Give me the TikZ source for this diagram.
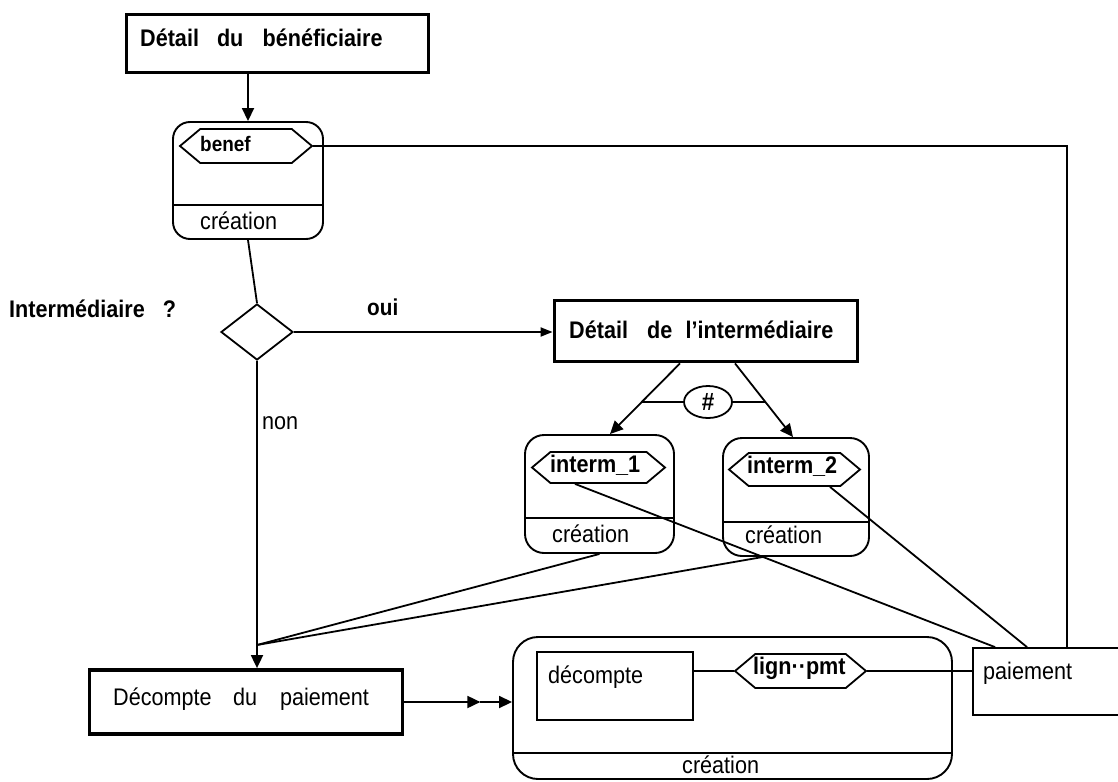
\documentclass[tikz,border=0pt]{standalone}
\usepackage{fontspec}
\setmainfont{Liberation Sans}[FakeStretch=0.9]
\usetikzlibrary{arrows.meta,shapes.geometric,shapes.symbols}
\begin{document}
\begin{tikzpicture}[x=1pt,y=-1pt,
  lbl/.style={font=\fontsize{24}{28}\selectfont, inner sep=0pt, anchor=base west},
  lblb/.style={lbl, font=\fontsize{24}{28}\selectfont\bfseries},
  heavybox/.style={draw, rectangle, line width=3.8pt, inner sep=0pt},
  plainbox/.style={draw, rectangle, line width=1.8pt, inner sep=0pt},
  roundbox/.style={draw, rectangle, line width=1.9pt, rounded corners=17pt, inner sep=0pt},
  hexa/.style={draw, signal, signal to=east and west, signal pointer angle=80, line width=1.8pt, inner sep=0pt},
  wire/.style={line width=1.8pt},
  arr/.style={-{Triangle[length=13pt,width=12pt]}},
  smallarr/.style={-{Triangle[length=12pt,width=9pt]}}
]
\useasboundingbox (0,0) rectangle (1118,781);

% beneficiary detail
\node[heavybox, minimum width=302pt, minimum height=58pt] (detB) at (277.5,43.5) {};
\node[lblb] (tdetB) at (140,47) {Détail\hspace{0.75em}du\hspace{0.8em}bénéficiaire};

% benef entity
\node[roundbox, minimum width=150pt, minimum height=117pt] (benef) at (248,180.5) {};
\node[hexa, minimum width=132pt, minimum height=34pt] (hB) at (246,146) {};
\node[lblb, font=\fontsize{21}{24}\selectfont\bfseries] (tB) at (200,151) {benef};
\draw[wire] (benef.west |- 0,205) -- (benef.east |- 0,205);
\node[lbl] (cB) at (200,229) {création};

% decision
\node[diamond, draw, line width=1.8pt, minimum width=72pt, minimum height=56pt, inner sep=0pt] (dia) at (257,332) {};
\node[lblb] (q) at (9,317) {Intermédiaire\hspace{0.75em}?};
\node[lblb, font=\fontsize{23}{27}\selectfont\bfseries] (oui) at (367,315) {oui};
\node[lbl] (non) at (262,429) {non};

% intermediary detail
\node[heavybox, minimum width=303pt, minimum height=61pt] (detI) at (706,331) {};
\node[lblb] (tdetI) at (569,338) {Détail\hspace{0.8em}de\hspace{0.55em}l'intermédiaire};
\node[ellipse, draw, line width=1.8pt, minimum width=48pt, minimum height=32pt, inner sep=0pt,
      font=\fontsize{25}{28}\selectfont\bfseries] (hash) at (708,402) {\#};

% interm_1
\node[roundbox, rounded corners=19pt, minimum width=149pt, minimum height=118pt] (i1) at (599.5,494) {};
\node[hexa, minimum width=133pt, minimum height=31pt] (h1) at (598.5,467.5) {};
\node[lblb] (th1) at (550,472) {interm\_1};
\draw[wire] (i1.west |- 0,518) -- (i1.east |- 0,518);
\node[lbl] (c1) at (552,542) {création};

% interm_2
\node[roundbox, rounded corners=19pt, minimum width=146pt, minimum height=118pt] (i2) at (796,497) {};
\node[hexa, minimum width=131pt, minimum height=33pt] (h2) at (794.5,469.5) {};
\node[lblb] (th2) at (747,473) {interm\_2};
\draw[wire] (i2.west |- 0,522) -- (i2.east |- 0,522);
\node[lbl] (c2) at (745,543) {création};

% payment computation
\node[heavybox, minimum width=313pt, minimum height=64pt] (decP) at (246,702) {};
\node[lbl] (tdecP) at (113,705) {Décompte\hspace{0.9em}du\hspace{0.95em}paiement};

% big entity
\node[roundbox, rounded corners=25pt, minimum width=439pt, minimum height=142pt] (big) at (732.5,708) {};
\draw[wire] (big.west |- 0,753) -- (big.east |- 0,753);
\node[lbl] (cbig) at (682,773) {création};
\node[plainbox, minimum width=156pt, minimum height=68pt] (decI) at (615,686) {};
\node[lbl] (tdecI) at (548,683) {décompte};
\node[hexa, minimum width=131pt, minimum height=34pt] (hL) at (800.5,671) {};
\node[lblb] (thL) at (753,674) {lign··pmt};
\node[plainbox, minimum width=188pt, minimum height=67pt] (pay) at (1067,681.5) {};
\node[lbl] (tpay) at (983,679) {paiement};

% connectors
\draw[wire,arr] (detB.south -| benef.north) -- (benef.north);
\draw[wire] (hB.east) -| (pay.north);
\draw[wire] (benef.south) -- (dia.north);
\draw[wire,smallarr] (dia.east) -- (dia.east -| detI.west);
\coordinate (cv) at (257,645);
\draw[wire,arr] (dia.south) -- (dia.south |- decP.north);
\draw[wire] (i1.south) -- (cv);
\draw[wire] ([xshift=-33pt]i2.south) -- (cv);
\draw[wire] ([xshift=-23.5pt]h1.south) -- ([xshift=-72pt]pay.north);
\draw[wire] ([xshift=35.5pt]h2.south) -- ([xshift=-40pt]pay.north);
\draw[wire,arr] ([xshift=-26pt]detI.south) coordinate (a1) -- ([xshift=10.5pt]i1.north) coordinate (b1);
\draw[wire,arr] ([xshift=29pt]detI.south) coordinate (a2) -- ([xshift=-3pt]i2.north) coordinate (b2);
\draw[wire] (hash.west) -- (intersection of a1--b1 and hash.west--hash.east);
\draw[wire] (hash.east) -- (intersection of a2--b2 and hash.west--hash.east);
\draw[wire,arr] (decP.east) -- ++(76,0) coordinate (dm);
\draw[wire,arr] (dm) -- (dm -| big.west);
\draw[wire] (hL.west -| decI.east) -- (hL.west);
\draw[wire] (hL.east) -- (hL.east -| pay.west);
\end{tikzpicture}
\end{document}
